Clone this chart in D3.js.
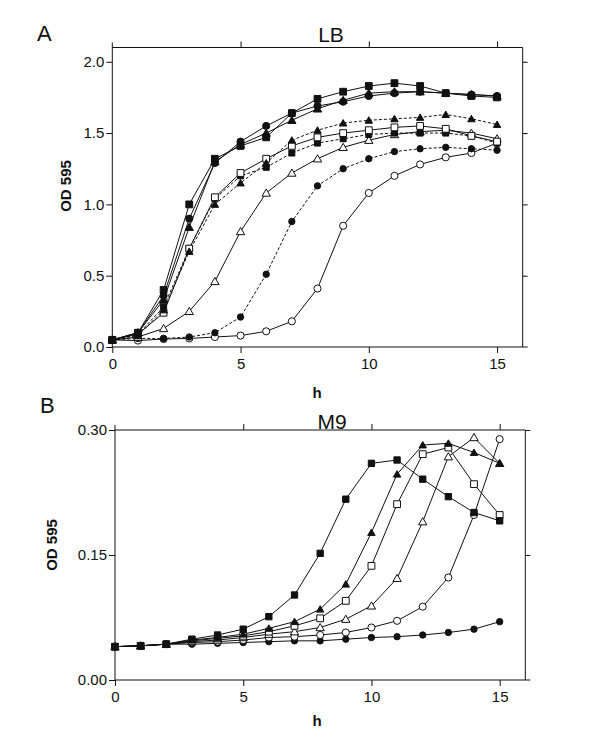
<!DOCTYPE html>
<html>
<head>
<meta charset="utf-8">
<script src="https://cdn.jsdelivr.net/npm/d3@7"></script>
<style>
  body { margin: 0; background: #fff; }
  svg text { font-family: "Liberation Sans", Arial, sans-serif; fill: #111; }
</style>
</head>
<body>
<div id="chart"></div>
<script>
// time points (h)
const hours = [0, 1, 2, 3, 4, 5, 6, 7, 8, 9, 10, 11, 12, 13, 14, 15];
const xTicks = [0, 5, 10, 15];

// LB panel
const lbTicks = [0, 0.5, 1.0, 1.5, 2.0];
const lbSqFill      = [0.05, 0.10, 0.40, 1.00, 1.32, 1.41, 1.47, 1.64, 1.74, 1.79, 1.83, 1.85, 1.83, 1.78, 1.76, 1.75];
const lbCircFill    = [0.05, 0.10, 0.36, 0.90, 1.29, 1.44, 1.55, 1.64, 1.69, 1.72, 1.76, 1.78, 1.79, 1.78, 1.77, 1.76];
const lbTriFill     = [0.05, 0.10, 0.33, 0.84, 1.30, 1.42, 1.50, 1.59, 1.67, 1.73, 1.78, 1.79, 1.79, 1.78, 1.77, 1.76];
const lbTriFillDash = [0.05, 0.08, 0.26, 0.67, 1.00, 1.15, 1.29, 1.45, 1.52, 1.57, 1.59, 1.60, 1.61, 1.63, 1.60, 1.56];
const lbSqOpen      = [0.05, 0.09, 0.24, 0.69, 1.05, 1.22, 1.32, 1.41, 1.47, 1.50, 1.52, 1.54, 1.55, 1.53, 1.48, 1.44];
const lbSqFillDash  = [0.05, 0.09, 0.28, 0.69, 1.04, 1.20, 1.26, 1.36, 1.43, 1.46, 1.49, 1.50, 1.50, 1.50, 1.48, 1.43];
const lbTriOpen     = [0.05, 0.07, 0.13, 0.25, 0.46, 0.81, 1.08, 1.22, 1.32, 1.40, 1.45, 1.49, 1.51, 1.52, 1.50, 1.46];
const lbCircFillDash= [0.05, 0.06, 0.06, 0.07, 0.10, 0.21, 0.51, 0.88, 1.13, 1.25, 1.32, 1.37, 1.39, 1.40, 1.39, 1.38];
const lbCircOpen    = [0.05, 0.045, 0.056, 0.06, 0.07, 0.08, 0.11, 0.18, 0.41, 0.85, 1.08, 1.20, 1.28, 1.33, 1.36, 1.43];

// M9 panel
const m9Ticks = [0, 0.15, 0.30];
const m9SqFill   = [0.040, 0.041, 0.043, 0.049, 0.054, 0.061, 0.076, 0.102, 0.152, 0.217, 0.260, 0.264, 0.241, 0.220, 0.201, 0.191];
const m9TriFill  = [0.040, 0.041, 0.043, 0.048, 0.051, 0.055, 0.062, 0.070, 0.085, 0.115, 0.177, 0.247, 0.282, 0.284, 0.273, 0.260];
const m9SqOpen   = [0.040, 0.041, 0.043, 0.047, 0.050, 0.053, 0.058, 0.065, 0.074, 0.095, 0.137, 0.211, 0.271, 0.279, 0.235, 0.198];
const m9TriOpen  = [0.040, 0.041, 0.043, 0.046, 0.048, 0.051, 0.055, 0.058, 0.063, 0.073, 0.089, 0.122, 0.190, 0.268, 0.291, 0.260];
const m9CircOpen = [0.040, 0.041, 0.043, 0.045, 0.046, 0.048, 0.051, 0.052, 0.054, 0.057, 0.063, 0.071, 0.088, 0.123, 0.198, 0.289];
const m9CircFill = [0.040, 0.041, 0.043, 0.043, 0.044, 0.045, 0.046, 0.047, 0.047, 0.049, 0.051, 0.052, 0.054, 0.057, 0.061, 0.070];

const svg = d3.select('#chart').append('svg')
  .attr('width', 600).attr('height', 738);

const shapes = { sq: d3.symbolSquare, ci: d3.symbolCircle, tr: d3.symbolTriangle };
const sizes = { sq: 46, ci: 40, tr: 30 };

function panel(opt) {
  const { left, right, top, bottom, yMax, yTicks, yFmt, series } = opt;
  const x = d3.scaleLinear().domain([0, 16]).range([left, right]);
  const y = d3.scaleLinear().domain([0, yMax]).range([bottom, top]);
  const g = svg.append('g');

  // box top/right
  g.append('line').attr('x1', left).attr('x2', right).attr('y1', top).attr('y2', top).attr('stroke', '#111');
  g.append('line').attr('x1', right).attr('x2', right).attr('y1', top).attr('y2', bottom).attr('stroke', '#111');
  // axis lines, a bit longer than the box
  g.append('line').attr('x1', left).attr('x2', left).attr('y1', top - 5).attr('y2', bottom).attr('stroke', '#111');
  g.append('line').attr('x1', left).attr('x2', right + 5).attr('y1', bottom).attr('y2', bottom).attr('stroke', '#111');

  const ax = g.append('g').attr('transform', `translate(0,${bottom})`)
    .call(d3.axisBottom(x).tickValues(xTicks).tickSize(6).tickPadding(5).tickSizeOuter(0));
  const ay = g.append('g').attr('transform', `translate(${left},0)`)
    .call(d3.axisLeft(y).tickValues(yTicks).tickFormat(yFmt).tickSize(6).tickPadding(2).tickSizeOuter(0));
  // outer ticks on top and right
  g.append('g').attr('transform', `translate(0,${top})`)
    .call(d3.axisTop(x).tickValues(xTicks.slice(1)).tickSize(6).tickFormat('').tickSizeOuter(0));
  g.append('g').attr('transform', `translate(${right},0)`)
    .call(d3.axisRight(y).tickValues(yTicks.slice(1)).tickSize(5).tickFormat('').tickSizeOuter(0));
  g.selectAll('.domain').remove();
  g.selectAll('.tick line').attr('stroke', '#111');
  g.selectAll('.tick text').style('font-size', '15px').attr('fill', '#111');

  const line = d3.line().x((d, i) => x(hours[i])).y(d => y(d));

  series.forEach(s => {
    g.append('path').datum(s.values)
      .attr('d', line)
      .attr('fill', 'none')
      .attr('stroke', '#111')
      .attr('stroke-width', 1)
      .attr('stroke-dasharray', s.dash ? '3,2' : null);
  });
  series.forEach(s => {
    const sym = d3.symbol().type(shapes[s.shape]).size(s.size || sizes[s.shape]);
    g.selectAll(null).data(s.values).enter().append('path')
      .attr('d', sym)
      .attr('transform', (d, i) => `translate(${x(hours[i])},${y(d) + (s.shape === 'tr' ? 0.8 : 0)})`)
      .attr('fill', s.fill ? '#111' : '#fff')
      .attr('stroke', '#111')
      .attr('stroke-width', 1);
  });
  return { x, y };
}

panel({
  left: 112.3, right: 522.7, top: 47.5, bottom: 347,
  yMax: 2.1, yTicks: lbTicks, yFmt: d3.format('.1f'),
  series: [
    { values: lbCircOpen, shape: 'ci', fill: false },
    { values: lbCircFillDash, shape: 'ci', fill: true, dash: true, size: 32 },
    { values: lbTriOpen, shape: 'tr', fill: false },
    { values: lbSqFillDash, shape: 'sq', fill: true, dash: true, size: 36 },
    { values: lbSqOpen, shape: 'sq', fill: false },
    { values: lbTriFillDash, shape: 'tr', fill: true, dash: true, size: 24 },
    { values: lbTriFill, shape: 'tr', fill: true },
    { values: lbCircFill, shape: 'ci', fill: true },
    { values: lbSqFill, shape: 'sq', fill: true }
  ]
});

panel({
  left: 115, right: 525.3, top: 430, bottom: 680,
  yMax: 0.30, yTicks: m9Ticks, yFmt: d3.format('.2f'),
  series: [
    { values: m9CircFill, shape: 'ci', fill: true, size: 32 },
    { values: m9CircOpen, shape: 'ci', fill: false },
    { values: m9TriOpen, shape: 'tr', fill: false },
    { values: m9SqOpen, shape: 'sq', fill: false },
    { values: m9TriFill, shape: 'tr', fill: true, size: 24 },
    { values: m9SqFill, shape: 'sq', fill: true, size: 40 }
  ]
});

// panel letters and titles
const txt = (x, y, s, size, weight, anchor, rot) => {
  const t = svg.append('text').attr('x', x).attr('y', y).text(s)
    .style('font-size', size + 'px').style('font-weight', weight || 'normal')
    .attr('text-anchor', anchor || 'middle');
  if (rot) t.attr('transform', `rotate(-90,${x},${y})`);
};
txt(37, 41, 'A', 22, 'normal', 'start');
txt(40, 413, 'B', 22, 'normal', 'start');
txt(331, 42, 'LB', 21);
txt(332, 429, 'M9', 21);
txt(71, 186, 'OD 595', 15, 'bold', 'middle', true);
txt(57, 545, 'OD 595', 15, 'bold', 'middle', true);
txt(317, 398, 'h', 15, 'bold');
txt(317, 726, 'h', 15, 'bold');
</script>
</body>
</html>
